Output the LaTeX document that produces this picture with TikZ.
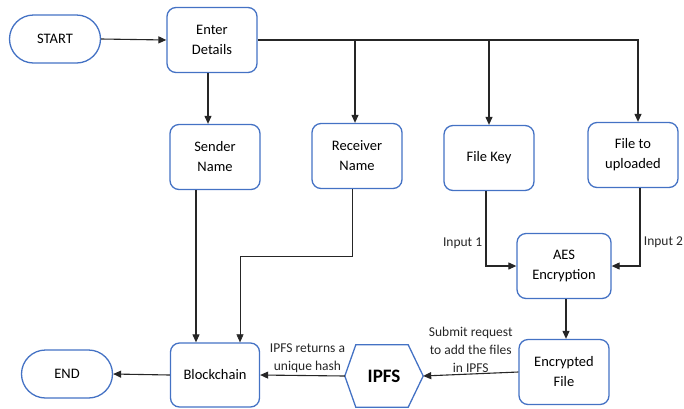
\documentclass[tikz,border=0pt]{standalone}
\usepackage{fontspec}
\setmainfont{Carlito}
\usetikzlibrary{arrows.meta}
\definecolor{boxblue}{RGB}{68,114,196}
\begin{document}
\begin{tikzpicture}[x=1pt,y=-1pt,
    box/.style={draw=boxblue,line width=1.3pt,rounded corners=9pt,minimum width=90pt,
      minimum height=65pt,align=center,font=\fontsize{14.5}{20}\selectfont},
    term/.style={draw=boxblue,line width=1.3pt,rounded corners=24pt,minimum width=91pt,
      minimum height=48pt,font=\fontsize{14.5}{20}\selectfont},
    lbl/.style={align=center,font=\fontsize{13.5}{18}\selectfont},
    arr/.style={-{Triangle[length=8pt,width=7pt]},line width=1.1pt,black!85}]
  \useasboundingbox (0,0) rectangle (684,408);
  % nodes
  \node[term] (start) at (55,39) {START};
  \node[box] (enter) at (212,40) {Enter\\Details};
  \node[box] (sender) at (215,157) {Sender\\Name};
  \node[box] (recv) at (357,156) {Receiver\\Name};
  \node[box] (fkey) at (489,158) {File Key};
  \node[box] (upload) at (633,155) {File to\\uploaded};
  \node[box,minimum width=94pt] (aes) at (564,266) {AES\\Encryption};
  \node[box] (encr) at (564,372) {Encrypted\\File};
  \node[minimum width=78pt,minimum height=62pt,font=\fontsize{19}{20}\selectfont\bfseries] (ipfs) at (384,376) {IPFS};
  \draw[boxblue,line width=1.3pt] (ipfs.west) -- ([xshift=11pt]ipfs.north west) -- ([xshift=-15pt]ipfs.north east)
    -- (ipfs.east) -- ([xshift=-15pt]ipfs.south east) -- ([xshift=11pt]ipfs.south west) -- cycle;
  \node[box,minimum width=89pt,minimum height=64pt] (chain) at (215,375) {Blockchain};
  \node[term] (end) at (67,374) {END};
  % connectors
  \draw[arr] (start.east) -- (enter.west);
  \draw[arr] (enter.east) -| ([xshift=5pt]upload.north);
  \foreach \n/\s in {recv/-2pt,fkey/0pt}
    \draw[arr] ([xshift=\s]enter.east -| \n.north) -- ([xshift=\s]\n.north);
  \draw[arr] ([xshift=-4pt]enter.south) -- ([xshift=-4pt]enter.south |- sender.north);
  \draw[arr] ([xshift=-19pt]sender.south) -- ([xshift=-19pt]sender.south |- chain.north);
  \draw[arr,line width=0.6pt] ([xshift=-5pt]recv.south) -- ++(0,67) -| ([xshift=25pt]chain.north);
  \draw[arr] ([xshift=-3pt]fkey.south) |- node[lbl,pos=0.35,left] {Input 1} (aes.west);
  \draw[arr] ([xshift=7pt]upload.south) |- node[lbl,pos=0.35,right] {Input 2} (aes.east);
  \draw[arr] ([xshift=2pt]aes.south) -- ([xshift=2pt]encr.north);
  \draw[arr] (encr.west) -- node[lbl,above,inner sep=1pt] {Submit request\\to add the files\\in IPFS} (ipfs.east);
  \draw[arr] (ipfs.west) -- node[lbl,above,inner sep=2pt,xshift=5pt] {IPFS returns a\\unique hash} (chain.east);
  \draw[arr] (chain.west) -- (end.east);
\end{tikzpicture}
\end{document}
